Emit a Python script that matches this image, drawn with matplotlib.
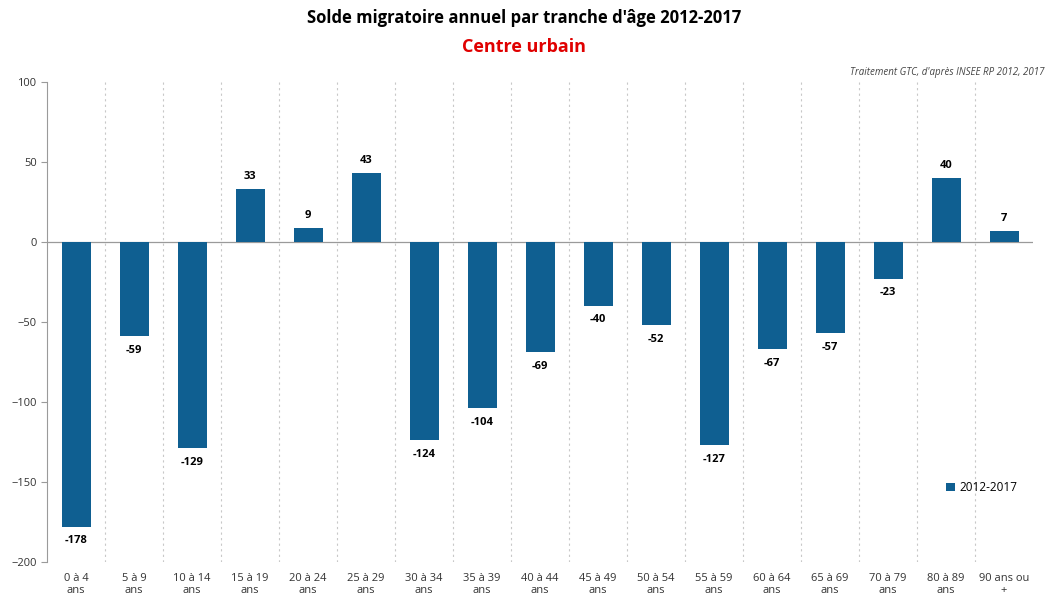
import matplotlib
matplotlib.use("Agg")
import matplotlib.pyplot as plt
import numpy as np

plt.rcParams['font.family'] = ['Open Sans', 'DejaVu Sans']

categories = ["0 à 4\nans", "5 à 9\nans", "10 à 14\nans", "15 à 19\nans", "20 à 24\nans",
              "25 à 29\nans", "30 à 34\nans", "35 à 39\nans", "40 à 44\nans", "45 à 49\nans",
              "50 à 54\nans", "55 à 59\nans", "60 à 64\nans", "65 à 69\nans", "70 à 79\nans",
              "80 à 89\nans", "90 ans ou\n+"]
values = [-178, -59, -129, 33, 9, 43, -124, -104, -69, -40, -52, -127, -67, -57, -23, 40, 7]
series_name = "2012-2017"

bar_color = "#0f5f91"

fig = plt.figure(figsize=(10.49, 6.01), dpi=100)
ax = fig.add_axes([47 / 1049, 1 - 562 / 601, 986 / 1049, 480 / 601])

x = np.arange(len(values))
ax.bar(x, values, width=0.5, color=bar_color, label=series_name, zorder=3)

for xi, v in zip(x, values):
    if v >= 0:
        ax.annotate(str(v), (xi, v), xytext=(0, 5), textcoords="offset points",
                    ha="center", va="bottom", fontsize=8, fontweight="bold")
    else:
        ax.annotate(str(v), (xi, v), xytext=(0, -6), textcoords="offset points",
                    ha="center", va="top", fontsize=8, fontweight="bold")

# dotted separators between categories
for b in np.arange(0.5, len(values) - 0.5, 1):
    ax.axvline(b, color="#c8c8c8", linestyle=(0, (2, 3)), linewidth=0.8, zorder=1)

ax.axhline(0, color="#9a9a9a", linewidth=0.9, zorder=2)

ax.set_xlim(-0.5, len(values) - 0.5)
ax.set_ylim(-200, 100)
ax.set_yticks([-200, -150, -100, -50, 0, 50, 100])
ax.set_xticks(x)
ax.set_xticklabels(categories, fontsize=8, color="#333333", linespacing=1.15)
ax.tick_params(axis="x", length=0, pad=8)
ax.tick_params(axis="y", labelsize=8, colors="#9a9a9a", labelcolor="#333333", length=4)

for s in ["top", "right", "bottom"]:
    ax.spines[s].set_visible(False)
ax.spines["left"].set_color("#9a9a9a")

leg = ax.legend(loc="lower right", bbox_to_anchor=(0.995, 0.12), frameon=False,
                fontsize=8.5, handlelength=0.7, handleheight=0.7, handletextpad=0.4)

fig.text(0.5, 1 - 18 / 601, "Solde migratoire annuel par tranche d'âge 2012-2017",
         ha="center", va="center", fontsize=12, fontweight="bold")
fig.text(0.5, 1 - 47 / 601, "Centre urbain", ha="center", va="center",
         fontsize=13, fontweight="bold", color="#e00000")
fig.text(1045 / 1049, 1 - 73 / 601, "Traitement GTC, d'après INSEE RP 2012, 2017",
         ha="right", va="center", fontsize=7, style="italic", color="#444444")

fig.savefig("out.png", dpi=100)
